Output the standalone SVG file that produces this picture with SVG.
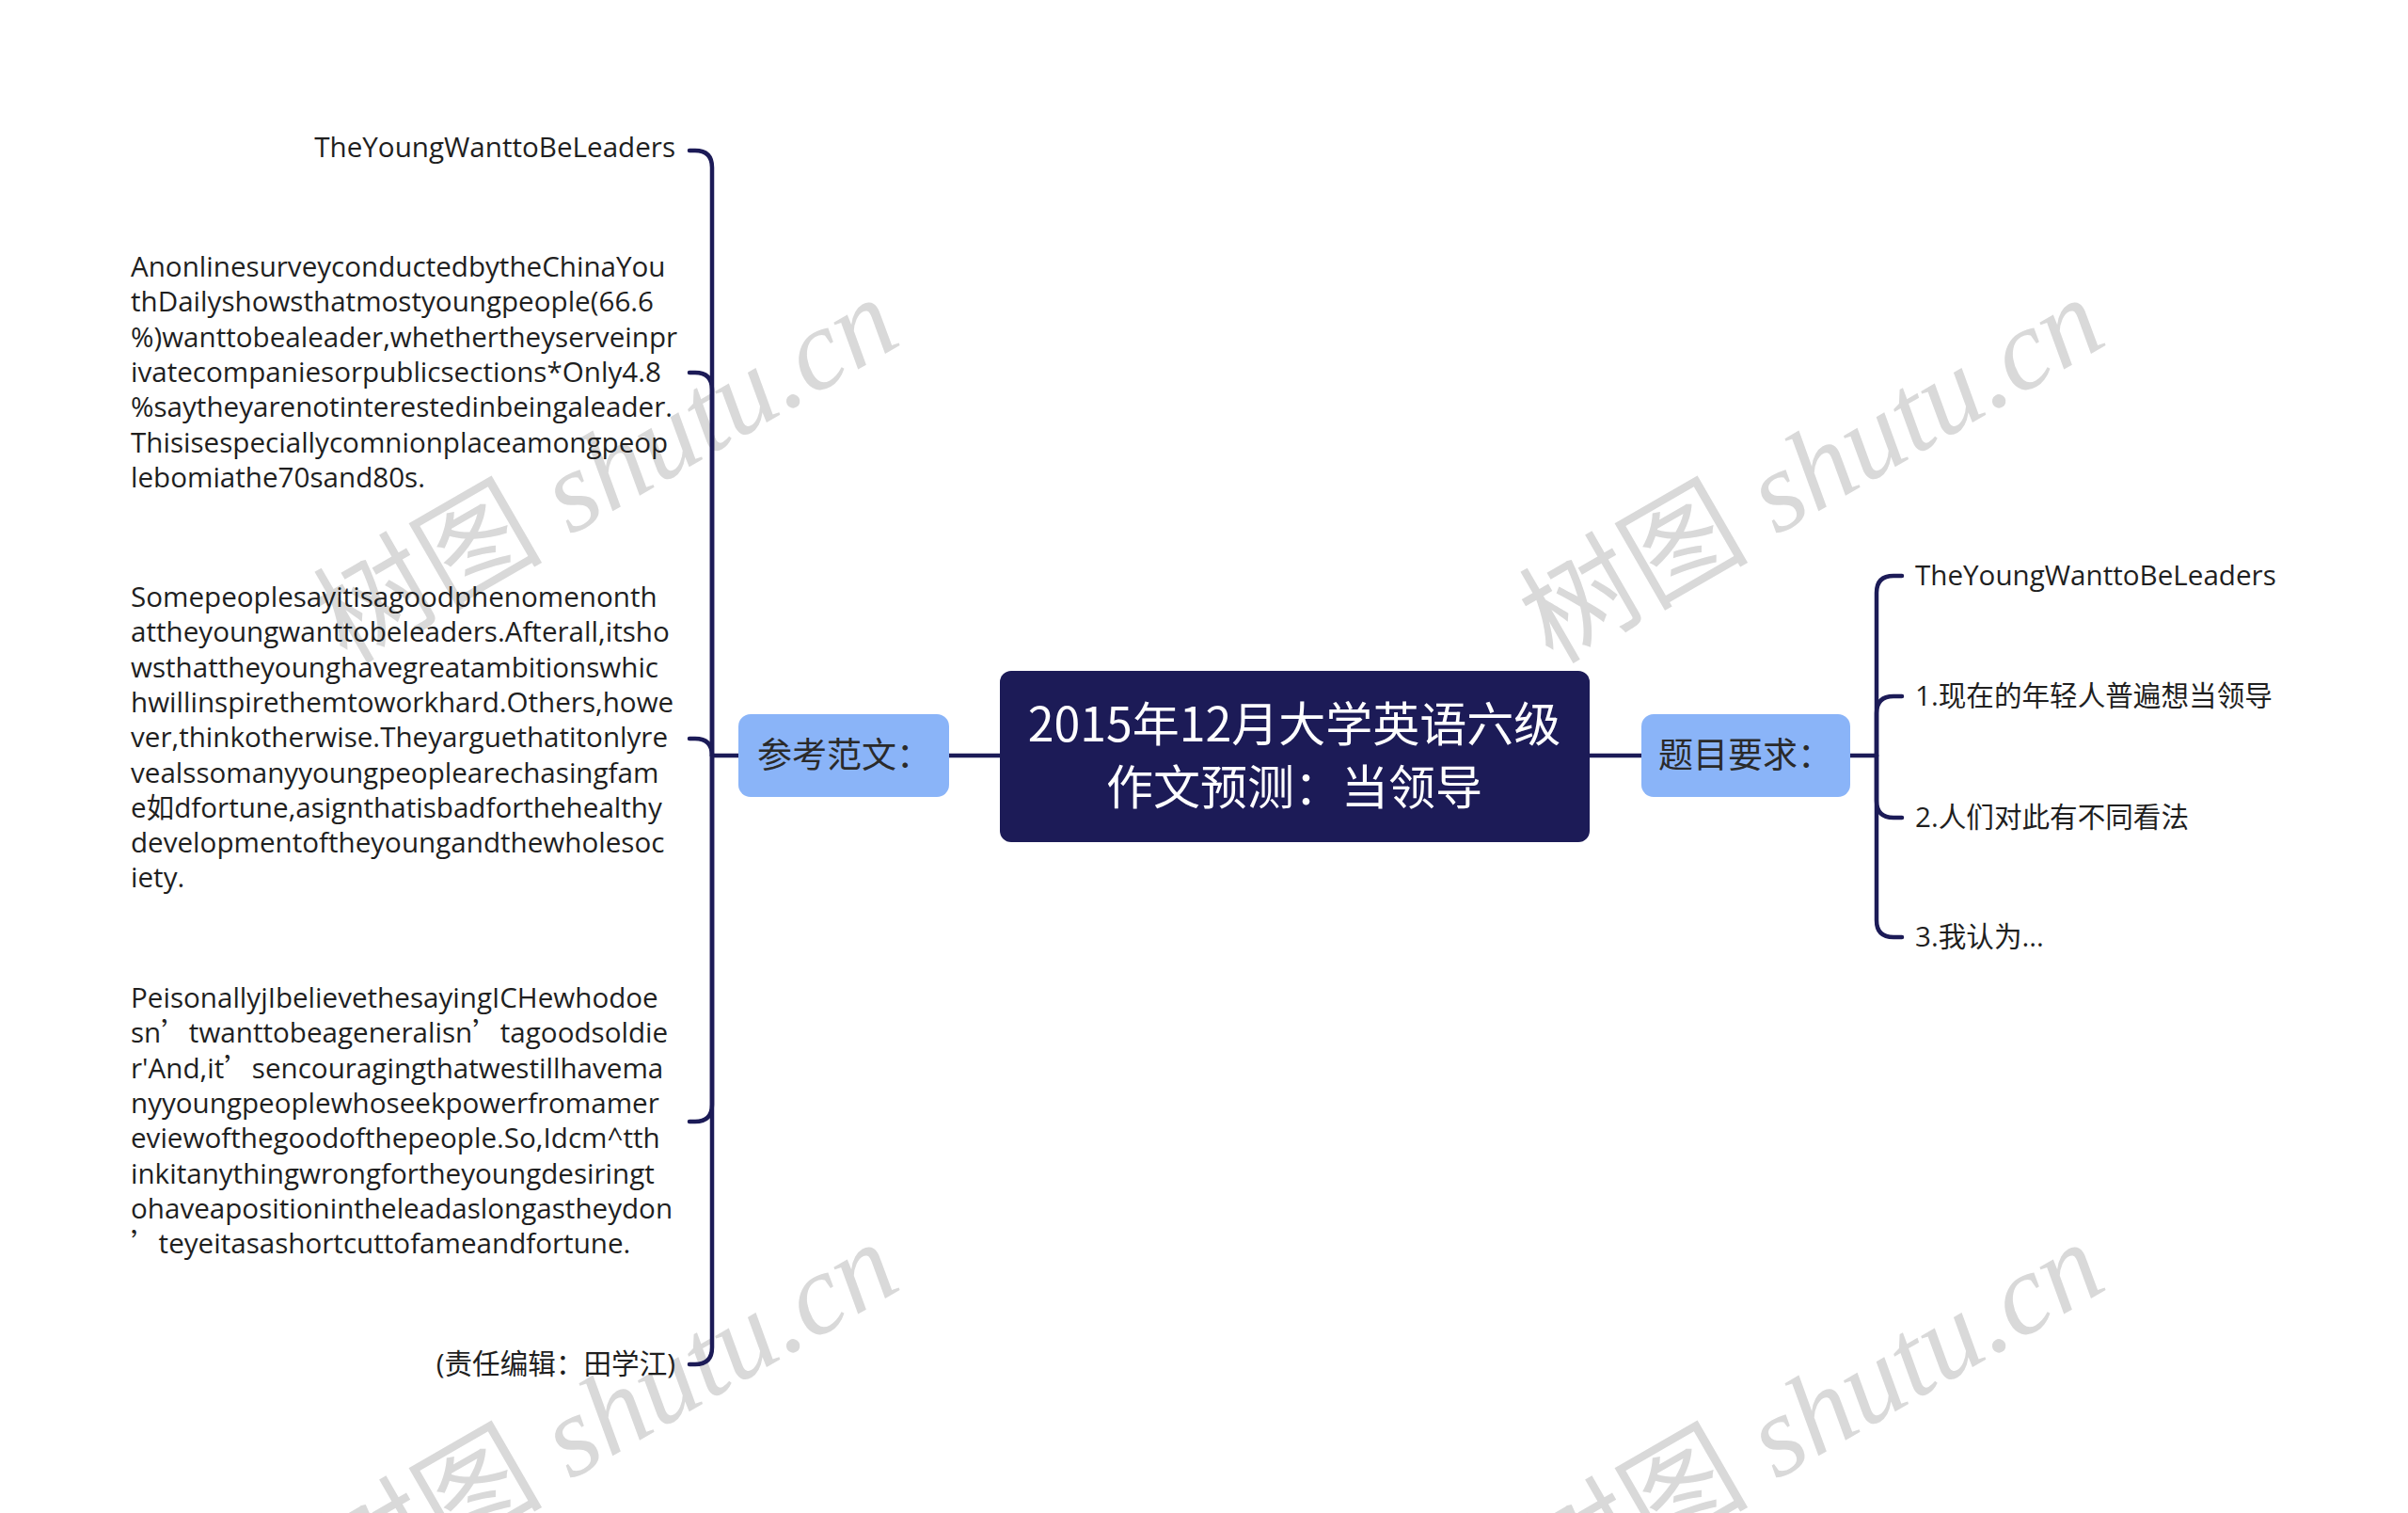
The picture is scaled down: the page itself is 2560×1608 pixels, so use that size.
<svg xmlns="http://www.w3.org/2000/svg" width="2560" height="1608" viewBox="0 0 2560 1608">
<style>
.wm{font-family:"Liberation Serif","Noto Sans CJK SC",serif;font-style:italic;font-size:122px;fill:#d9d9d9}
.wmc{font-family:"Noto Sans CJK SC",serif;font-style:normal}
.t{font-family:"Open Sans","Noto Sans CJK SC",sans-serif;font-size:29.6px;fill:#1f1f1f}
.q{font-family:"Noto Sans CJK SC",sans-serif}
.edge{fill:none;stroke:#1c1b57;stroke-width:4.5;stroke-linecap:round}
.root{fill:#1c1b57}
.rt{font-family:"Noto Sans CJK SC",sans-serif;font-size:50px;fill:#ffffff;text-anchor:middle}
.br{fill:#8ab4f8}
.bt{font-family:"Noto Sans CJK SC",sans-serif;font-size:37px;fill:#2a2a2a}
</style>
<rect x="0" y="0" width="2560" height="1608" fill="#ffffff"/>
<g id="watermarks">
<text class="wm" x="648" y="540" text-anchor="middle" transform="rotate(-30 648 506)"><tspan class="wmc">树图</tspan> shutu.cn</text>
<text class="wm" x="1930" y="540" text-anchor="middle" transform="rotate(-30 1930 506)"><tspan class="wmc">树图</tspan> shutu.cn</text>
<text class="wm" x="648" y="1544" text-anchor="middle" transform="rotate(-30 648 1510)"><tspan class="wmc">树图</tspan> shutu.cn</text>
<text class="wm" x="1930" y="1544" text-anchor="middle" transform="rotate(-30 1930 1510)"><tspan class="wmc">树图</tspan> shutu.cn</text>
</g>
<g id="connectors">
<path class="edge" d="M1009,803 H1063"/>
<path class="edge" d="M1690,803 H1745"/>
<path class="edge" d="M785,803 H757"/>
<path class="edge" d="M757,803 V178 Q757,160 739,160 H733"/>
<path class="edge" d="M757,803 V414 Q757,396 739,396 H733"/>
<path class="edge" d="M757,803 Q757,785 739,785 H733"/>
<path class="edge" d="M757,803 V1174 Q757,1192 739,1192 H733"/>
<path class="edge" d="M757,803 V1432 Q757,1450 739,1450 H733"/>
<path class="edge" d="M1967,803 H1995"/>
<path class="edge" d="M1995,803 V630 Q1995,612 2013,612 H2022"/>
<path class="edge" d="M1995,803 V758 Q1995,740 2013,740 H2022"/>
<path class="edge" d="M1995,803 V851 Q1995,869 2013,869 H2022"/>
<path class="edge" d="M1995,803 V978 Q1995,996 2013,996 H2022"/>
</g>
<g id="root">
<rect class="root" x="1063" y="713" width="627" height="182" rx="12"/>
<text class="rt" x="1376" y="788">2015年12月大学英语六级</text>
<text class="rt" x="1376" y="855">作文预测：当领导</text>
</g>
<g id="branch-left">
<rect class="br" x="785" y="759" width="224" height="88" rx="13"/>
<text class="bt" x="805" y="816">参考范文：</text>
</g>
<g id="branch-right">
<rect class="br" x="1745" y="759" width="222" height="88" rx="13"/>
<text class="bt" x="1763" y="816">题目要求：</text>
</g>
<g id="left-title">
<text class="t" x="718" y="167" text-anchor="end">TheYoungWanttoBeLeaders</text>
</g>
<g id="left-p1">
<text class="t" x="139" y="294">AnonlinesurveyconductedbytheChinaYou</text>
<text class="t" x="139" y="331.3">thDailyshowsthatmostyoungpeople(66.6</text>
<text class="t" x="139" y="368.6">%)wanttobealeader,whethertheyserveinpr</text>
<text class="t" x="139" y="405.9">ivatecompaniesorpublicsections*Only4.8</text>
<text class="t" x="139" y="443.2">%saytheyarenotinterestedinbeingaleader.</text>
<text class="t" x="139" y="480.5">Thisisespeciallycomnionplaceamongpeop</text>
<text class="t" x="139" y="517.8">lebomiathe70sand80s.</text>
</g>
<g id="left-p2">
<text class="t" x="139" y="645">Somepeoplesayitisagoodphenomenonth</text>
<text class="t" x="139" y="682.3">attheyoungwanttobeleaders.Afterall,itsho</text>
<text class="t" x="139" y="719.6">wsthattheyounghavegreatambitionswhic</text>
<text class="t" x="139" y="756.9">hwillinspirethemtoworkhard.Others,howe</text>
<text class="t" x="139" y="794.2">ver,thinkotherwise.Theyarguethatitonlyre</text>
<text class="t" x="139" y="831.5">vealssomanyyoungpeoplearechasingfam</text>
<text class="t" x="139" y="868.8">e如dfortune,asignthatisbadforthehealthy</text>
<text class="t" x="139" y="906.1">developmentoftheyoungandthewholesoc</text>
<text class="t" x="139" y="943.4">iety.</text>
</g>
<g id="left-p3">
<text class="t" x="139" y="1071">PeisonallyjIbelievethesayingICHewhodoe</text>
<text class="t" x="139" y="1108.3">sn<tspan class="q">’</tspan>twanttobeageneralisn<tspan class="q">’</tspan>tagoodsoldie</text>
<text class="t" x="139" y="1145.6">r'And,it<tspan class="q">’</tspan>sencouragingthatwestillhavema</text>
<text class="t" x="139" y="1182.9">nyyoungpeoplewhoseekpowerfromamer</text>
<text class="t" x="139" y="1220.2">eviewofthegoodofthepeople.So,Idcm^tth</text>
<text class="t" x="139" y="1257.5">inkitanythingwrongfortheyoungdesiringt</text>
<text class="t" x="139" y="1294.8">ohaveapositionintheleadaslongastheydon</text>
<text class="t" x="139" y="1332.1"><tspan class="q">’</tspan>teyeitasashortcuttofameandfortune.</text>
</g>
<g id="left-editor">
<text class="t" x="718" y="1460" text-anchor="end">(责任编辑：田学江)</text>
</g>
<g id="right-1">
<text class="t" x="2036" y="622">TheYoungWanttoBeLeaders</text>
</g>
<g id="right-2">
<text class="t" x="2036" y="750">1.现在的年轻人普遍想当领导</text>
</g>
<g id="right-3">
<text class="t" x="2036" y="879">2.人们对此有不同看法</text>
</g>
<g id="right-4">
<text class="t" x="2036" y="1006">3.我认为...</text>
</g>
</svg>
